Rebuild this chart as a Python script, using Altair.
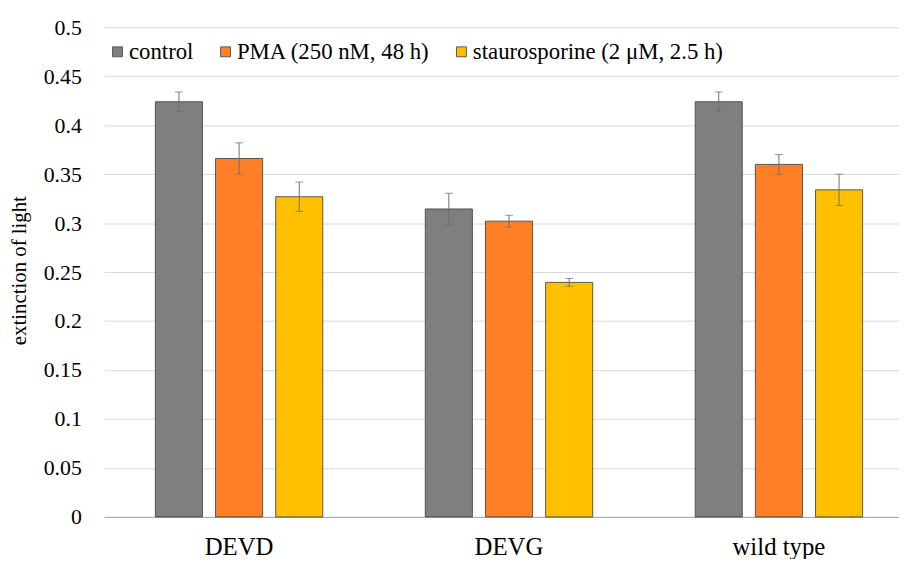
import altair as alt
import pandas as pd

groups = ["DEVD", "DEVG", "wild type"]
series = ["control", "PMA (250 nM, 48 h)", "staurosporine (2 μM, 2.5 h)"]
colors = ["#7f7f7f", "#ff7f27", "#ffc000"]

control_vals = [0.424, 0.3145, 0.424]
pma_vals = [0.366, 0.302, 0.360]
stauro_vals = [0.327, 0.2395, 0.334]

control_err = [0.010, 0.016, 0.010]
pma_err = [0.016, 0.006, 0.010]
stauro_err = [0.015, 0.004, 0.016]

y_ticks = [0, 0.05, 0.1, 0.15, 0.2, 0.25, 0.3, 0.35, 0.4, 0.45, 0.5]

rows = []
for s, vals, errs in zip(series, [control_vals, pma_vals, stauro_vals],
                         [control_err, pma_err, stauro_err]):
    for g, v, e in zip(groups, vals, errs):
        rows.append({"group": g, "series": s, "value": v,
                     "lo": v - e, "hi": v + e})
df = pd.DataFrame(rows)

FONT = "Liberation Serif"

x_enc = alt.X("group:N", sort=groups,
              scale=alt.Scale(range=[2, 819], paddingInner=0, paddingOuter=0),
              axis=alt.Axis(title=None, labelFontSize=25, labelFont=FONT,
                            labelColor="#000000", labelPadding=18,
                            labelAngle=0, labelBaseline="top",
                            ticks=False, domain=True, domainColor="#a6a6a6",
                            domainWidth=1, grid=False))
xo_enc = alt.XOffset("series:N", sort=series,
                     scale=alt.Scale(paddingInner=0.2175, paddingOuter=0.852))
y_scale = alt.Scale(domain=[0, 0.5], nice=False, zero=True)

base = alt.Chart(df)

bars = base.mark_bar(stroke="#404040", strokeWidth=1, strokeOpacity=0.85).encode(
    x=x_enc,
    xOffset=xo_enc,
    y=alt.Y("value:Q", scale=y_scale,
            axis=alt.Axis(values=y_ticks, format=".2~f", title="extinction of light",
                          titleFont=FONT, titleFontSize=21, titleFontWeight="normal",
                          titleColor="#000000", titleAngle=-90,
                          titleX=-83, titleY=245, titleAlign="center",
                          titleBaseline="middle",
                          labelFont=FONT, labelFontSize=22, labelColor="#000000",
                          labelPadding=21, ticks=False, domain=False,
                          grid=True, gridColor="#d9d9d9", gridWidth=1)),
    color=alt.Color("series:N", sort=series,
                    scale=alt.Scale(domain=series, range=colors),
                    legend=alt.Legend(title=None, orient="none", direction="horizontal",
                                      legendX=4, legendY=13, padding=0,
                                      symbolType="square", symbolSize=100,
                                      symbolStrokeColor="#595959", symbolStrokeWidth=1,
                                      symbolOpacity=1,
                                      labelFont=FONT, labelFontSize=23,
                                      labelColor="#000000", labelOffset=0,
                                      labelLimit=0, columnPadding=20)),
)

rules = base.mark_rule(color="#6e6e6e", strokeWidth=1).encode(
    x=alt.X("group:N", sort=groups),
    xOffset=alt.XOffset("series:N", sort=series),
    y=alt.Y("lo:Q", scale=y_scale),
    y2="hi:Q",
)

caps_lo = base.mark_tick(color="#6e6e6e", size=8, thickness=1, orient="horizontal").encode(
    x=alt.X("group:N", sort=groups),
    xOffset=alt.XOffset("series:N", sort=series),
    y=alt.Y("lo:Q", scale=y_scale),
)
caps_hi = base.mark_tick(color="#6e6e6e", size=8, thickness=1, orient="horizontal").encode(
    x=alt.X("group:N", sort=groups),
    xOffset=alt.XOffset("series:N", sort=series),
    y=alt.Y("hi:Q", scale=y_scale),
)

chart = alt.layer(bars, rules, caps_lo, caps_hi).properties(
    width=804, height=494,
    autosize=alt.AutoSizeParams(type="none"),
    padding={"left": 95, "top": 17, "right": 0, "bottom": 40},
    background="#ffffff",
).configure_view(
    stroke=None
).configure_axis(
    labelFont=FONT, titleFont=FONT, labelColor="#000000", titleColor="#000000"
).configure_axisY(
    labelFontSize=22, titleFontSize=21, titleFontWeight="normal"
).configure_axisX(
    labelFontSize=25
).configure_legend(
    labelFont=FONT, labelFontSize=23, labelLimit=0
)

chart.save("out.html", embed_options={"renderer": "svg", "actions": False})
